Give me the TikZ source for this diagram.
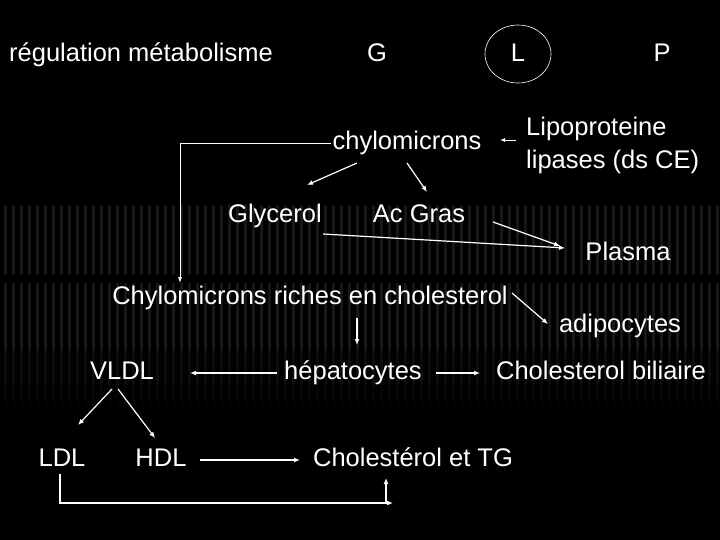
\documentclass[tikz,border=0pt]{standalone}
\usepackage{fontspec}
\setmainfont{Liberation Sans}
\usetikzlibrary{arrows.meta}
\begin{document}
\begin{tikzpicture}[x=1pt,y=-1pt,
  lbl/.style={text=white,font=\fontsize{25.5}{29}\selectfont,inner sep=1pt,text height=18pt,text depth=5pt},
  arr/.style={draw=white,line width=1.2pt,-{Latex[length=6pt,width=5pt]}},
  ln/.style={draw=white,line width=1.2pt}]
\fill[black] (0,0) rectangle (720,540);
\useasboundingbox (0,0) rectangle (720,540);
\foreach \x in {4,12,...,720}{
  \fill[white,opacity=0.09] (\x,205) rectangle (\x+3,275);
  \fill[white,opacity=0.09] (\x,283) rectangle (\x+3,350);
  \fill[white,opacity=0.05] (\x,350) rectangle (\x+3,385);
  \fill[white,opacity=0.02] (\x,385) rectangle (\x+3,405);
}
\node[lbl] (reg) at (141,55) {régulation métabolisme};
\node[lbl] (G) at (377,55) {G};
\node[lbl] (L) at (518,55) {L};
\draw[white,line width=0.6pt] (518,54) ellipse [x radius=33,y radius=29];
\node[lbl] (P) at (662,55) {P};
\node[lbl] (chy) at (407,143) {chylomicrons};
\node[lbl,align=left,anchor=west,text height=,text depth=,font=\fontsize{25.5}{33}\selectfont] (lip) at (525,145) {Lipoproteine\\lipases (ds CE)};
\node[lbl] (gly) at (275,216) {Glycerol};
\node[lbl] (ac) at (419,216) {Ac Gras};
\node[lbl] (pla) at (628,254) {Plasma};
\node[lbl] (cr) at (310,298) {Chylomicrons riches en cholesterol};
\node[lbl] (adi) at (620,326) {adipocytes};
\node[lbl] (vldl) at (122,373) {VLDL};
\node[lbl] (hep) at (353,373) {hépatocytes};
\node[lbl] (bil) at (601,373) {Cholesterol biliaire};
\node[lbl] (ldl) at (62,460) {LDL};
\node[lbl] (hdl) at (161,460) {HDL};
\node[lbl] (ctg) at (413,460) {Cholestérol et TG};
\coordinate (c1) at (180,143);
\coordinate (c2) at (180,283);
\draw[white,line width=0.8pt,-{Latex[length=6pt,width=4pt]}] (chy.west) -- (c1) -- (c2);
\draw[white,line width=0.8pt,-{Latex[length=5pt,width=4pt]}] (516,140) -- (500,140);
\draw[arr] (357,163) -- (307,185);
\draw[arr] (407,163) -- (427,192);
\draw[arr] (323,234) -- (565,248);
\draw[arr] (493,222) -- (560,246);
\draw[arr] (512,293) -- (548,324);
\draw[arr] (357,318) -- (357,345);
\draw[arr] (277,373) -- (190,373);
\draw[arr] (436,373) -- (480,373);
\draw[arr] (112,389) -- (78,425);
\draw[arr] (118,389) -- (155,438);
\draw[arr] (200,460) -- (300,460);
\coordinate (d1) at (60,474);
\coordinate (d2) at (60,503);
\coordinate (d3) at (393,503);
\draw[arr] (d1) -- (d2) -- (d3);
\draw[arr] (386,502) -- (386,478);
\end{tikzpicture}
\end{document}
